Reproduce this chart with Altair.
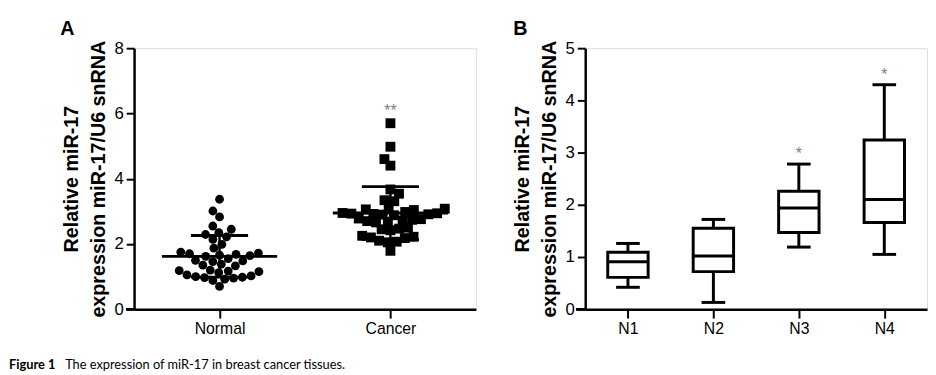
import math
import altair as alt
import pandas as pd

# ---------------- data ----------------
groups_a = ["Normal", "Cancer"]
normal_values = [3.37, 3.01, 2.83, 2.55, 2.45, 2.35, 2.29, 2.22, 2.14, 1.99, 1.87,
                 1.75, 1.72, 1.70, 1.68, 1.66, 1.64, 1.62, 1.55, 1.50, 1.48, 1.46,
                 1.38, 1.35, 1.33, 1.20, 1.18, 1.17, 1.15, 1.12, 1.05, 1.02, 1.00,
                 0.98, 0.97, 0.95, 0.92, 0.88, 0.70]
cancer_values = [5.70, 4.98, 4.60, 4.40, 3.67, 3.54, 3.34, 3.31, 3.10, 3.08, 3.06,
                 3.04, 2.98, 2.95, 2.94, 2.93, 2.92, 2.91, 2.90, 2.88, 2.78, 2.76,
                 2.74, 2.72, 2.70, 2.68, 2.66, 2.50, 2.47, 2.45, 2.42, 2.25, 2.22,
                 2.20, 2.18, 2.10, 2.07, 2.05, 1.79]
sig_a = ["", "**"]

groups_b = ["N1", "N2", "N3", "N4"]
b_min = [0.42, 0.13, 1.19, 1.05]
b_q1 = [0.61, 0.72, 1.47, 1.66]
b_med = [0.91, 1.02, 1.94, 2.10]
b_q3 = [1.09, 1.55, 2.26, 3.24]
b_max = [1.26, 1.72, 2.78, 4.30]
sig_b = ["", "", "*", "*"]

caption_bold = "Figure 1"
caption_text = "The expression of miR-17 in breast cancer tissues."
y_title = ["Relative miR-17", "expression miR-17/U6 snRNA"]

# ---------------- layout constants ----------------
W, H = 347, 265
AX_FONT = "Liberation Sans"


def swarm(values, px_per_unit, diameter):
    """Simple beeswarm: place points (sorted by value) as close to centre as possible."""
    placed = []
    offs = [0.0] * len(values)
    for i in sorted(range(len(values)), key=lambda k: values[k]):
        y = values[i] * px_per_unit
        cands = [0.0]
        for px, py in placed:
            dy = abs(py - y)
            if dy < diameter:
                dx = math.sqrt(diameter * diameter - dy * dy)
                cands += [px + dx, px - dx]
        cands.sort(key=lambda c: (abs(c), c))
        best = 0.0
        for c in cands:
            if all((c - px) ** 2 + (y - py) ** 2 >= diameter * diameter - 1e-6 for px, py in placed):
                best = c
                break
        placed.append((best, y))
        offs[i] = best
    return offs


px_y_a = H / 8.0
px_x_a = W / 2.0
rows = []
for gi, (g, vals) in enumerate(zip(groups_a, [normal_values, cancer_values]), start=1):
    offs = swarm(vals, px_y_a, 9.0)
    for v, o in zip(vals, offs):
        rows.append({"group": g, "gi": gi, "value": v, "x": gi + o / px_x_a})
df_a = pd.DataFrame(rows)

label_expr = "datum.value == 1 ? '%s' : datum.value == 2 ? '%s' : ''" % (groups_a[0], groups_a[1])

x_a = alt.X("x:Q", scale=alt.Scale(domain=[0.5, 2.5], nice=False, zero=False),
            axis=alt.Axis(values=[1, 2], labelExpr=label_expr, title=None, grid=False,
                          labelFont=AX_FONT, labelFontSize=16, labelColor="black",
                          tickSize=9, tickWidth=2, tickColor="black", labelPadding=3,
                          domainColor="black", domainWidth=2.5))
y_a_axis = alt.Axis(values=[0, 2, 4, 6, 8], title=y_title, grid=False,
                    labelFont=AX_FONT, labelFontSize=17, labelColor="black",
                    tickSize=8, tickWidth=2, tickColor="black", labelPadding=3,
                    domainColor="black", domainWidth=2.5,
                    titleFont=AX_FONT, titleFontSize=20, titleFontWeight="bold",
                    titleColor="black", titleLineHeight=27, titlePadding=6)
y_a_scale = alt.Scale(domain=[0, 8], nice=False)

base_a = alt.Chart(df_a)
points = base_a.mark_point(filled=True, opacity=1, color="black").encode(
    x=x_a,
    y=alt.Y("value:Q", scale=y_a_scale, axis=y_a_axis),
    shape=alt.Shape("group:N", scale=alt.Scale(domain=groups_a, range=["circle", "square"]), legend=None),
    size=alt.Size("group:N", scale=alt.Scale(domain=groups_a, range=[80, 100]), legend=None),
)

stats = base_a.transform_aggregate(
    mean="mean(value)", sd="stdev(value)", mx="max(value)", groupby=["gi", "group"]
).transform_calculate(lo="datum.mean - datum.sd", hi="datum.mean + datum.sd")

mean_tick = stats.mark_tick(orient="horizontal", color="black", opacity=1, size=117, thickness=3).encode(
    x=alt.X("gi:Q"), y=alt.Y("mean:Q"))
sd_rule = stats.mark_rule(color="black", opacity=1, strokeWidth=2.5).encode(
    x=alt.X("gi:Q"), y=alt.Y("lo:Q"), y2="hi:Q")
sd_cap_hi = stats.mark_tick(orient="horizontal", color="black", opacity=1, size=58, thickness=3).encode(
    x=alt.X("gi:Q"), y=alt.Y("hi:Q"))
sd_cap_lo = stats.mark_tick(orient="horizontal", color="black", opacity=1, size=58, thickness=3).encode(
    x=alt.X("gi:Q"), y=alt.Y("lo:Q"))

df_sig_a = pd.DataFrame({"gi": [1, 2], "sig": sig_a,
                         "mx": [max(normal_values), max(cancer_values)]})
sig_text_a = alt.Chart(df_sig_a).mark_text(
    color="#808080", fontSize=16, font=AX_FONT, baseline="middle", dy=-12
).encode(x=alt.X("gi:Q"), y=alt.Y("mx:Q"), text="sig:N")

ext_a = alt.Chart(df_sig_a).mark_rule(color="black", strokeWidth=2.5).encode(
    x=alt.value(-8), x2=alt.value(0), y=alt.value(H))

letter_a = alt.Chart(pd.DataFrame({"t": ["A"]})).mark_text(
    font=AX_FONT, fontSize=20, fontWeight="bold", align="left", baseline="alphabetic", color="black"
).encode(x=alt.value(-75), y=alt.value(-13), text="t:N")

cap1 = alt.Chart(pd.DataFrame({"t": [caption_bold]})).mark_text(
    font="Lato", fontSize=13, fontWeight="bold", align="left", baseline="alphabetic", color="black"
).encode(x=alt.value(-127), y=alt.value(326), text="t:N")
cap2 = alt.Chart(pd.DataFrame({"t": [caption_text]})).mark_text(
    font="Lato", fontSize=13, align="left", baseline="alphabetic", color="black"
).encode(x=alt.value(-70), y=alt.value(326), text="t:N")

panel_a = alt.layer(points, mean_tick, sd_rule, sd_cap_hi, sd_cap_lo, sig_text_a, ext_a,
                    letter_a, cap1, cap2).properties(width=W, height=H)

# ---------------- panel B ----------------
df_b = pd.DataFrame({"group": groups_b, "mn": b_min, "q1": b_q1, "med": b_med,
                     "q3": b_q3, "mx": b_max, "sig": sig_b})
x_b = alt.X("group:N", sort=groups_b, scale=alt.Scale(type="point", padding=0.5),
            axis=alt.Axis(title=None, labelAngle=0, grid=False,
                          labelFont=AX_FONT, labelFontSize=16, labelColor="black",
                          tickSize=9, tickWidth=2, tickColor="black", labelPadding=3,
                          domainColor="black", domainWidth=2.5))
y_b_scale = alt.Scale(domain=[0, 5], nice=False)
y_b_axis = alt.Axis(values=[0, 1, 2, 3, 4, 5], title=y_title, grid=False,
                    labelFont=AX_FONT, labelFontSize=17, labelColor="black",
                    tickSize=8, tickWidth=2, tickColor="black", labelPadding=3,
                    domainColor="black", domainWidth=2.5,
                    titleFont=AX_FONT, titleFontSize=20, titleFontWeight="bold",
                    titleColor="black", titleLineHeight=27, titlePadding=6)

base_b = alt.Chart(df_b)
whisk = base_b.mark_rule(color="black", opacity=1, strokeWidth=3).encode(
    x=x_b, y=alt.Y("mn:Q", scale=y_b_scale, axis=y_b_axis), y2="mx:Q")
cap_lo = base_b.mark_tick(color="black", opacity=1, size=24, thickness=3).encode(x=x_b, y=alt.Y("mn:Q"))
cap_hi = base_b.mark_tick(color="black", opacity=1, size=24, thickness=3).encode(x=x_b, y=alt.Y("mx:Q"))
box = base_b.mark_bar(width=41, fill="white", stroke="black", strokeWidth=3, opacity=1).encode(
    x=x_b, y=alt.Y("q1:Q"), y2="q3:Q")
med = base_b.mark_tick(color="black", opacity=1, size=41, thickness=3).encode(x=x_b, y=alt.Y("med:Q"))
sig_text_b = base_b.mark_text(color="#808080", fontSize=16, font=AX_FONT,
                              baseline="middle", dy=-10).encode(
    x=x_b, y=alt.Y("mx:Q"), text="sig:N")
ext_b = base_b.mark_rule(color="black", strokeWidth=2.5).encode(
    x=alt.value(-9), x2=alt.value(0), y=alt.value(H))
letter_b = alt.Chart(pd.DataFrame({"t": ["B"]})).mark_text(
    font=AX_FONT, fontSize=20, fontWeight="bold", align="left", baseline="alphabetic", color="black"
).encode(x=alt.value(-73), y=alt.value(-13), text="t:N")

panel_b = alt.layer(whisk, box, med, cap_lo, cap_hi, sig_text_b, ext_b, letter_b).properties(
    width=W, height=H)

chart = alt.hconcat(panel_a, panel_b, spacing=36).properties(
    padding={"left": 0, "top": 8, "right": 0, "bottom": 0}
).configure_view(stroke=None).configure(background="white")

chart.save("out.html", embed_options={"renderer": "svg", "actions": False})
